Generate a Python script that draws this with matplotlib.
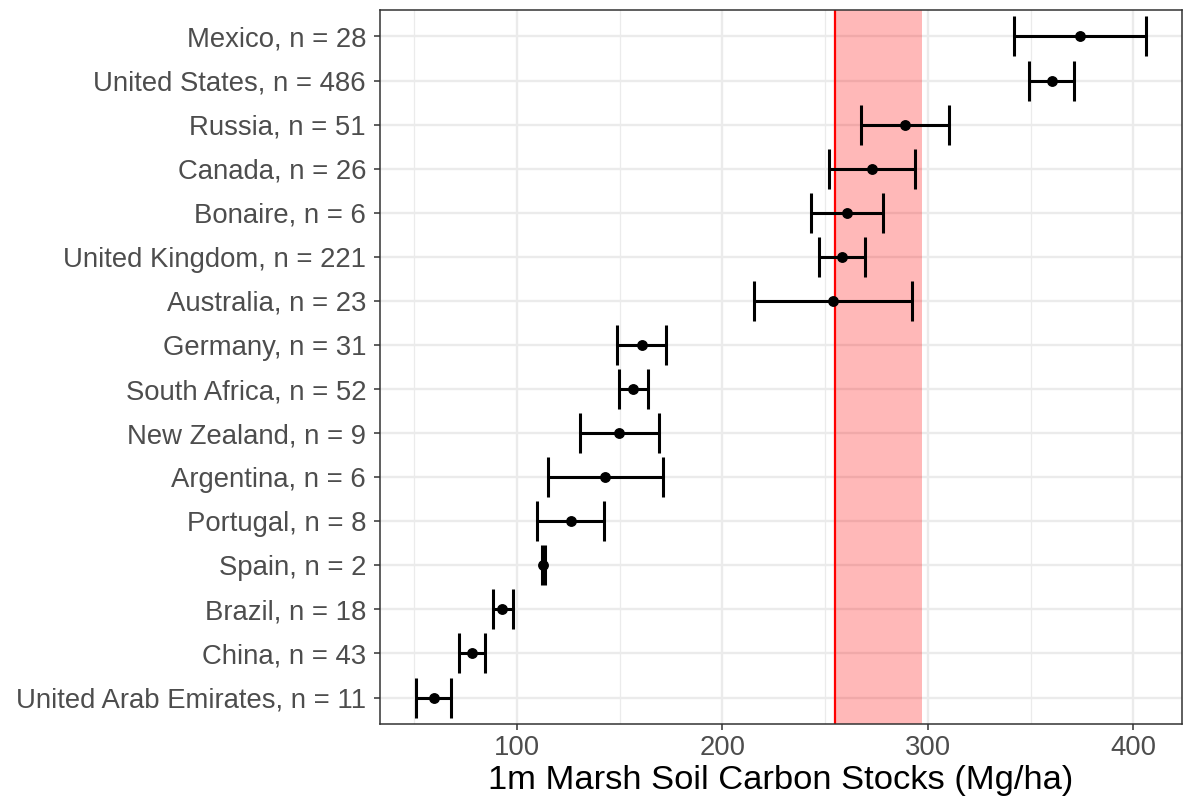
import matplotlib
matplotlib.use("Agg")
import matplotlib.pyplot as plt
import numpy as np
from matplotlib.ticker import MultipleLocator

plt.rcParams['font.family'] = ['Liberation Sans', 'DejaVu Sans']

countries = ["Mexico, n = 28", "United States, n = 486", "Russia, n = 51", "Canada, n = 26",
             "Bonaire, n = 6", "United Kingdom, n = 221", "Australia, n = 23", "Germany, n = 31",
             "South Africa, n = 52", "New Zealand, n = 9", "Argentina, n = 6", "Portugal, n = 8",
             "Spain, n = 2", "Brazil, n = 18", "China, n = 43", "United Arab Emirates, n = 11"]
means = [374.1, 360.3, 289.1, 272.9, 260.8, 258.3, 253.8, 160.7, 156.6, 149.8, 143.0, 126.2,
         112.9, 93.0, 78.1, 59.5]
lower = [342.0, 349.0, 267.5, 251.7, 243.3, 247.2, 215.2, 148.9, 149.5, 130.7, 115.0, 109.7,
         112.2, 88.3, 71.6, 50.9]
upper = [406.0, 371.3, 310.4, 293.9, 278.1, 269.5, 292.3, 172.4, 163.9, 169.3, 170.9, 142.5,
         113.6, 97.9, 84.7, 68.1]
global_mean = 255.0
band_low, band_high = 255.0, 297.0
xticks = [100, 200, 300, 400]
xlabel = "1m Marsh Soil Carbon Stocks (Mg/ha)"

fig = plt.figure(figsize=(11.85, 8.08), dpi=100)
ax = fig.add_axes([380/1185, 1 - 724/808, (1181.5 - 380)/1185, (724 - 10)/808])

n = len(countries)
ypos = np.arange(n, 0, -1)

ax.set_xlim(33.4, 423.4)
ax.set_ylim(0.4, n + 0.6)

ax.xaxis.set_major_locator(MultipleLocator(100))
ax.xaxis.set_minor_locator(MultipleLocator(50))
ax.grid(True, which='major', color='#EBEBEB', linewidth=1.7, zorder=0)
ax.grid(True, which='minor', axis='x', color='#EBEBEB', linewidth=0.9, zorder=0)
ax.set_axisbelow(True)

ax.axvspan(band_low, band_high, color='red', alpha=0.28, lw=0, zorder=1)
ax.axvline(global_mean, color='red', lw=1.6, zorder=2)

means_a = np.array(means)
xerr = np.vstack([means_a - np.array(lower), np.array(upper) - means_a])
ax.errorbar(means_a, ypos, xerr=xerr, fmt='o', color='black', ms=6.8, elinewidth=2.2,
            capsize=14.2, capthick=2.2, zorder=3)

ax.set_yticks(ypos)
ax.set_yticklabels(countries)
ax.set_xticks(xticks)
ax.set_xticklabels([str(t) for t in xticks])
ax.tick_params(axis='both', which='major', length=4, width=1.1, color='#333333',
               labelcolor='#4D4D4D', labelsize=19.8, pad=4)
ax.tick_params(axis='y', which='major', pad=6)
ax.tick_params(axis='x', which='minor', length=0)
ax.set_xlabel(xlabel, fontsize=24.8, color='black', labelpad=3)

for s in ax.spines.values():
    s.set_color('#333333')
    s.set_linewidth(1.1)

fig.savefig("out.png", dpi=100)
